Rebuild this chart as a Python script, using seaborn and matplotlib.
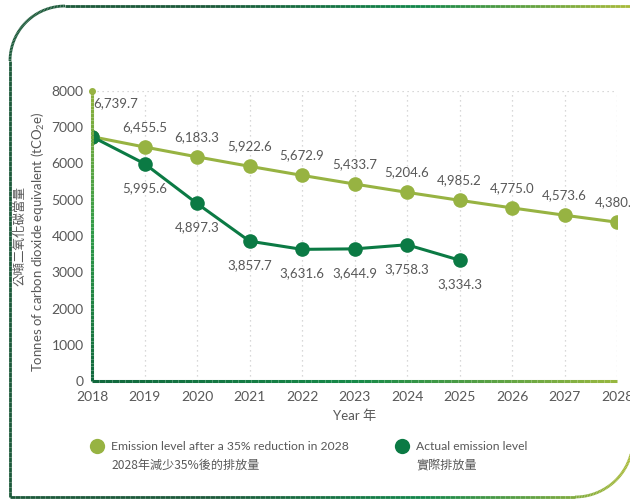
import numpy as np
import pandas as pd
import matplotlib
matplotlib.use("Agg")
import matplotlib.pyplot as plt
import seaborn as sns
from matplotlib.collections import LineCollection
from matplotlib.colors import LinearSegmentedColormap
from matplotlib.lines import Line2D

# ---------------------------------------------------------
# Daten
# ---------------------------------------------------------
years_target = [2018, 2019, 2020, 2021, 2022, 2023, 2024, 2025, 2026, 2027, 2028]
target_values = [6739.7, 6455.5, 6183.3, 5922.6, 5672.9, 5433.7, 5204.6, 4985.2, 4775.0, 4573.6, 4380.8]
years_actual = [2018, 2019, 2020, 2021, 2022, 2023, 2024, 2025]
actual_values = [6739.7, 5995.6, 4897.3, 3857.7, 3631.6, 3644.9, 3758.3, 3334.3]
y_ticks = [0, 1000, 2000, 3000, 4000, 5000, 6000, 7000, 8000]

label_target = "Emission level after a 35% reduction in 2028"
label_target_zh = "2028年減少35%後的排放量"
label_actual = "Actual emission level"
label_actual_zh = "實際排放量"

df_target = pd.DataFrame({"year": years_target, "value": target_values})
df_actual = pd.DataFrame({"year": years_actual, "value": actual_values})

# ---------------------------------------------------------
# Stil
# ---------------------------------------------------------
sns.set_style("white")
plt.rcParams["font.family"] = ["Lato", "Noto Sans CJK TC", "DejaVu Sans"]
plt.rcParams["mathtext.fontset"] = "custom"
plt.rcParams["mathtext.rm"] = "Lato"
plt.rcParams["mathtext.it"] = "Lato:italic"
plt.rcParams["mathtext.bf"] = "Lato:bold"

OLIVE = "#97b342"
DARK = "#0b7a44"
GREY = "#585858"

W, H = 630, 499
fig = plt.figure(figsize=(W / 100, H / 100), dpi=100)
ax = fig.add_axes([92 / W, 1 - 381 / H, (617 - 92) / W, (381 - 91) / H])


def px(x, y):
    return x / W, 1 - y / H


# ---------------------------------------------------------
# Linien
# ---------------------------------------------------------
sns.lineplot(data=df_target, x="year", y="value", ax=ax, color=OLIVE, linewidth=2.2,
             marker="o", markersize=10.5, markeredgewidth=0, zorder=3)
sns.lineplot(data=df_actual, x="year", y="value", ax=ax, color=DARK, linewidth=2.2,
             marker="o", markersize=10.5, markeredgewidth=0, zorder=4)

for i, (yr, v) in enumerate(zip(years_target, target_values)):
    if i == 0:
        ax.annotate(f"{v:,.1f}", (yr, v), xytext=(1, 20), textcoords="offset points",
                    ha="left", va="bottom", fontsize=9.5, color=GREY, annotation_clip=False)
    else:
        ax.annotate(f"{v:,.1f}", (yr, v), xytext=(0, 10), textcoords="offset points",
                    ha="center", va="bottom", fontsize=9.5, color=GREY, annotation_clip=False)
for i, (yr, v) in enumerate(zip(years_actual, actual_values)):
    if i == 0:
        continue
    ax.annotate(f"{v:,.1f}", (yr, v), xytext=(0, -13), textcoords="offset points",
                ha="center", va="top", fontsize=9.5, color=GREY)

# ---------------------------------------------------------
# Achsen
# ---------------------------------------------------------
ax.set_xlim(2018, 2028)
ax.set_ylim(0, 8000)
ax.set_xticks(years_target)
ax.set_yticks(y_ticks)
ax.tick_params(axis="both", length=0, labelsize=10, labelcolor=GREY)
ax.tick_params(axis="x", pad=7)
ax.tick_params(axis="y", pad=6)
for s in ax.spines.values():
    s.set_visible(False)
ax.set_xlabel("Year 年", fontsize=9.5, color=GREY, labelpad=5)
ax.set_ylabel("")

for yr in years_target[1:]:
    ax.axvline(yr, color="#cccccc", linestyle=(0, (1, 3)), linewidth=0.9, zorder=1)
ax.axhline(8000, color="#cccccc", linestyle=(0, (1, 3)), linewidth=0.9, zorder=1)

# Verlaufs-Achsenlinien
cmap_axis = LinearSegmentedColormap.from_list("ax", ["#11683d", "#178a49", "#9ab83f"])
t = np.linspace(0, 1, 80)
seg_x = [[(t[i], 0), (t[i + 1], 0)] for i in range(len(t) - 1)]
lc = LineCollection(seg_x, colors=cmap_axis(t[:-1]), linewidths=2.2, transform=ax.transAxes,
                    clip_on=False, zorder=5)
ax.add_collection(lc)
cmap_y = LinearSegmentedColormap.from_list("ay", ["#11683d", "#2e9a48", "#8fb13c"])
seg_y = [[(0, t[i]), (0, t[i + 1])] for i in range(len(t) - 1)]
lc = LineCollection(seg_y, colors=cmap_y(t[:-1]), linewidths=2.2, transform=ax.transAxes,
                    clip_on=False, zorder=5)
ax.add_collection(lc)
ax.plot([0], [1], marker="o", markersize=4, color=OLIVE, transform=ax.transAxes,
        clip_on=False, zorder=6)

# y-Achsenbeschriftung
fig.text(*px(20, 236), "公噸二氧化碳當量", rotation=90, ha="center", va="center",
         rotation_mode="anchor", fontsize=9, color=GREY, family="Noto Sans CJK TC")
fig.text(*px(38, 242), "Tonnes of carbon dioxide equivalent (tCO$_2$e)", rotation=90,
         ha="center", va="center", fontsize=9.5, color=GREY)

# ---------------------------------------------------------
# Legende
# ---------------------------------------------------------
for mx, c, l1, l2 in [(97, OLIVE, label_target, label_target_zh),
                      (402, DARK, label_actual, label_actual_zh)]:
    fig.add_artist(Line2D([px(mx, 446)[0]], [px(mx, 446)[1]], marker="o", markersize=11,
                          markeredgewidth=0, color=c, transform=fig.transFigure))
    fig.text(*px(mx + 14, 446), l1, ha="left", va="center", fontsize=8.7, color=GREY)
    fig.text(*px(mx + 14, 465), l2, ha="left", va="center", fontsize=8.7, color=GREY,
             family=["Noto Sans CJK TC", "Lato"])

# ---------------------------------------------------------
# Rahmen
# ---------------------------------------------------------
pts = [(640, 6), (65, 6)]
a = np.linspace(90, 180, 30)
pts += [(65 + 55 * np.cos(np.radians(v)), 61 - 55 * np.sin(np.radians(v))) for v in a]
pts += [(10, 61), (10, 497), (575, 497)]
a = np.linspace(-90, 0, 30)
pts += [(575 + 58 * np.cos(np.radians(v)), 439 - 58 * np.sin(np.radians(v))) for v in a]
pts = np.array(pts)
dense = [pts[0]]
for p0, p1 in zip(pts[:-1], pts[1:]):
    n = max(2, int(np.hypot(*(p1 - p0)) / 5))
    for k in range(1, n + 1):
        dense.append(p0 + (p1 - p0) * k / n)
dense = np.array(dense)
cmap_frame = LinearSegmentedColormap.from_list("fr", ["#1c5a3a", "#1c5a3a", "#12864a", "#a8ba3a"])
segs = [[px(*dense[i]), px(*dense[i + 1])] for i in range(len(dense) - 1)]
cols = cmap_frame(np.clip(dense[:-1, 0] / 630, 0, 1))
fig.add_artist(LineCollection(segs, colors=cols, linewidths=2.0, transform=fig.transFigure))

plt.savefig("out.png", dpi=100)
